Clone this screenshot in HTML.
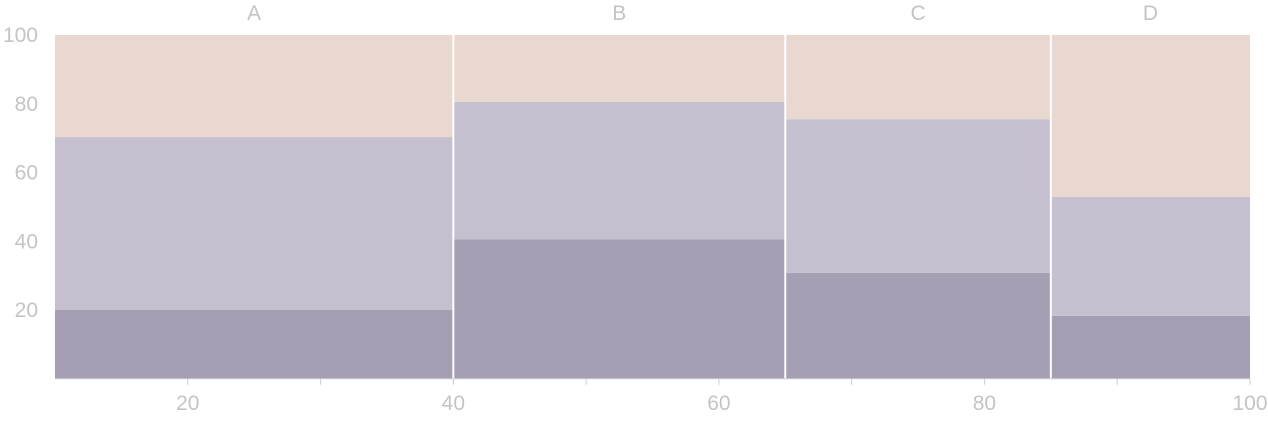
<!DOCTYPE html>
<html><head><meta charset="utf-8"><style>
html,body{margin:0;padding:0;background:#fff;}
svg text{font-family:"Liberation Sans",sans-serif;fill:#c4c4c4;font-size:21px;}
</style></head><body>
<svg id="chart" width="1268" height="418"></svg>
<script>
const categories = ["A","B","C","D"];
const widths = [30,25,20,15];
const bottomVals = [20,40.6,30.8,18.3];
const middleVals = [50.3,39.9,44.7,34.6];
const topVals = [29.7,19.5,24.5,47.1];
const xTicks = [20,40,60,80,100];
const xMinor = [30,50,70,90];
const yTicks = [20,40,60,80,100];
const colors = ["#a69eb3","#c5bfcf","#e8d8cf"];
const seriesNames = ["bottom-segment","middle-segment","top-segment"];

const NS="http://www.w3.org/2000/svg";
const svg=document.getElementById("chart");
const x0=55,x1=1250,y0=378.75,y1=35,xMin=10,xMax=100;
const sx=v=>x0+(v-xMin)/(xMax-xMin)*(x1-x0);
const sy=v=>y0-v/100*(y0-y1);
function mk(tag,attrs){const e=document.createElementNS(NS,tag);for(const k in attrs)e.setAttribute(k,attrs[k]);svg.appendChild(e);return e;}

let cum=xMin;
const bounds=[];
categories.forEach((c,i)=>{
  const a=cum,b=cum+widths[i];cum=b;
  if(i>0)bounds.push(a);
  const series=[bottomVals[i],middleVals[i],topVals[i]];
  let base=0;
  series.forEach((v,j)=>{
    const r=mk("rect",{x:sx(a),y:sy(base+v),width:sx(b)-sx(a),height:sy(base)-sy(base+v),fill:colors[j]});
    
    
    base+=v;
  });
  const t=mk("text",{x:(sx(a)+sx(b))/2,y:20,"text-anchor":"middle"});
  t.textContent=c;
  
  
});
bounds.forEach(v=>{
  const l=mk("line",{x1:sx(v),x2:sx(v),y1:y1,y2:y0,stroke:"#fff","stroke-width":2});
  
  
});
const ax=mk("line",{x1:x0,x2:x1,y1:y0,y2:y0,stroke:"#ccc","stroke-width":1});


xTicks.concat(xMinor).forEach(v=>{
  const l=mk("line",{x1:sx(v),x2:sx(v),y1:y0,y2:y0+6,stroke:"#ccc","stroke-width":1});
  
  
});
xTicks.forEach(v=>{
  const t=mk("text",{x:sx(v),y:y0+31,"text-anchor":"middle"});
  t.textContent=v;
  
  
});
yTicks.forEach(v=>{
  const t=mk("text",{x:38,y:sy(v)+7,"text-anchor":"end"});
  t.textContent=v;
  
  
});
</script>
</body></html>
